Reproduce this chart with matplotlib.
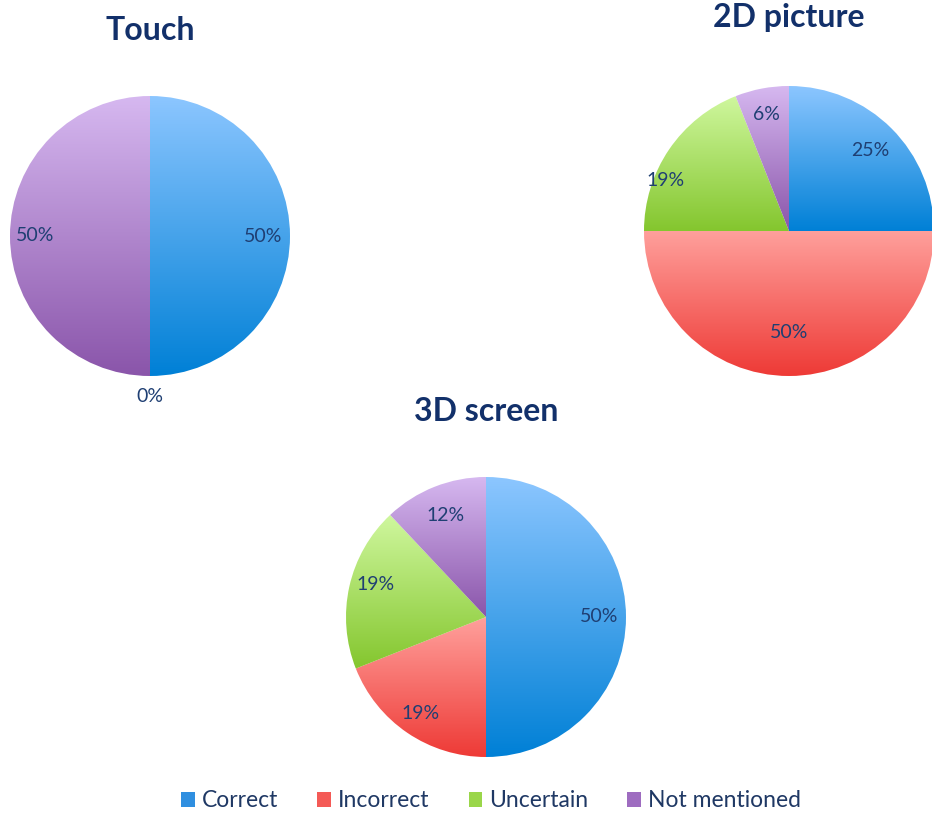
import numpy as np
import matplotlib
matplotlib.use('Agg')
import matplotlib.pyplot as plt
from matplotlib.patches import Patch
from matplotlib.colors import to_rgb

plt.rcParams['font.family'] = ['Lato', 'DejaVu Sans']

# data
categories = ['Correct', 'Incorrect', 'Uncertain', 'Not mentioned']
titles = ['Touch', '2D picture', '3D screen']
touch = [50, 0, 0, 50]
picture_2d = [25, 50, 19, 6]
screen_3d = [50, 19, 19, 12]
series = [touch, picture_2d, screen_3d]

# gradient colours (top, bottom) per category
grad_top = ['#8CC6FF', '#FFA09C', '#CFF79E', '#D6B8F0']
grad_bot = ['#0080D6', '#EE3A36', '#84C62E', '#8A55AA']
legend_cols = ['#2F8FE0', '#F45A56', '#9AD64A', '#9E6CC0']

# layout: pie centre (px), radius (px)
W, H = 932, 814
centers = [(150, 236), (789, 231), (486, 617)]
radii = [140, 145, 140]
label_dist = [[0.81, 1.15, None, 0.82],
              [0.79, 0.70, 0.92, 0.82],
              [0.81, 0.83, 0.82, 0.78]]
label_turn = [[0, 0, 0, 0], [0, 0, 12, 0], [0, 0, -4, 0]]

label_color = '#1F3F73'
title_color = '#12306A'

fig = plt.figure(figsize=(W / 100, H / 100), dpi=100)
lim = 1.3

for k in range(3):
    cx, cy = centers[k]
    r = radii[k]
    half = lim * r
    ax = fig.add_axes([(cx - half) / W, (H - cy - half) / H, 2 * half / W, 2 * half / H])
    wedges, _ = ax.pie(series[k], startangle=90, counterclock=False,
                       wedgeprops=dict(linewidth=0))
    for i, w in enumerate(wedges):
        val = series[k][i]
        if val > 0:
            ext = w.get_path().get_extents()
            c0 = np.array(to_rgb(grad_top[i]))
            c1 = np.array(to_rgb(grad_bot[i]))
            t = np.linspace(0, 1, 256)[:, None, None]
            img = c0 * (1 - t) + c1 * t
            w.set_facecolor('none')
            im = ax.imshow(img, extent=(ext.x0, ext.x1, ext.y0, ext.y1),
                           origin='upper', aspect='auto', interpolation='bilinear',
                           zorder=1)
            im.set_clip_path(w)
        d = label_dist[k][i]
        if d is None:
            continue
        ang = np.deg2rad((w.theta1 + w.theta2) / 2 + label_turn[k][i])
        ax.text(d * np.cos(ang), d * np.sin(ang), f'{val}%', ha='center', va='center',
                fontsize=14, color=label_color, zorder=3)
    ax.text(0, 1.47, titles[k], ha='center', va='center', fontsize=23,
            fontweight='bold', color=title_color, clip_on=False)
    ax.set_xlim(-lim, lim)
    ax.set_ylim(-lim, lim)
    ax.set_aspect('equal')
    ax.axis('off')

handles = [Patch(facecolor=c, edgecolor='none') for c in legend_cols]
fig.legend(handles, categories, loc='center', bbox_to_anchor=(0.527, 0.016),
           ncol=4, frameon=False, fontsize=16.5, handlelength=0.6, handleheight=0.6,
           handletextpad=0.3, columnspacing=1.7, labelcolor='#1F3864')

fig.savefig('out.png', dpi=100)
